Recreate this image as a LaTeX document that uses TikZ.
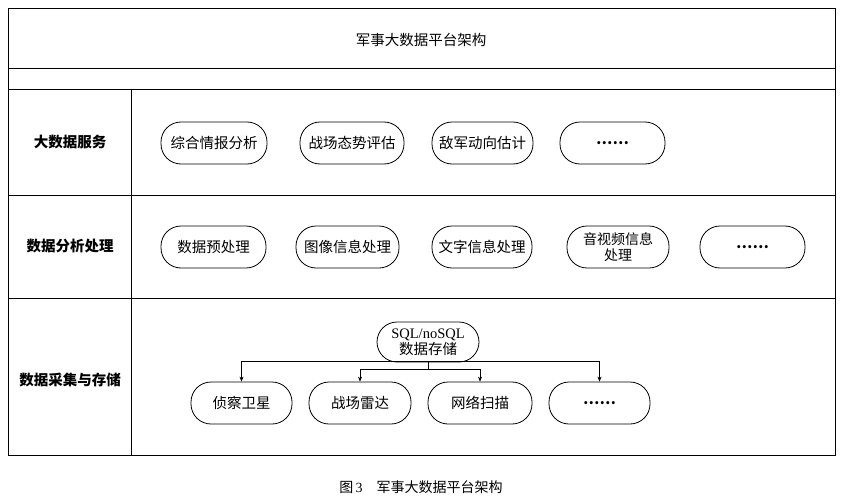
\documentclass[tikz,border=0pt]{standalone}
\usepackage{fontspec}
\usetikzlibrary{arrows.meta}
\setmainfont{Liberation Serif}
\newfontfamily\cjk{Noto Sans CJK SC}
\begin{document}
\begin{tikzpicture}[x=1pt,y=-1pt,line width=0.8pt,
  pill/.style={draw,rounded corners=20pt,minimum height=42pt,inner sep=1pt,align=center,font=\fontsize{14.5}{15}\selectfont\cjk},
  lab/.style={font=\fontsize{14.5}{16}\selectfont\cjk\bfseries},
  arr/.style={-{Stealth[length=5pt,width=4pt]},line width=0.6pt}]
\useasboundingbox (0,0) rectangle (842,500);
\draw (8,8) rectangle (835,455);
\foreach \y in {68,89,195,298} \draw (8,\y) -- (835,\y);
\draw (131,89) -- (131,455);
\node[font=\fontsize{14.5}{16}\selectfont\cjk] (t) at (421,40) {军事大数据平台架构};
\node[lab] (r1) at (70,142) {大数据服务};
\node[lab] (r2) at (70,246) {数据分析处理};
\node[lab] (r3) at (70,380) {数据采集与存储};
% row 1
\node[pill,minimum width=106pt] (a1) at (214,143) {综合情报分析};
\node[pill,minimum width=104pt] (a2) at (352,143) {战场态势评估};
\node[pill,minimum width=101pt] (a3) at (482.5,143) {敌军动向估计};
\node[pill,minimum width=105pt] (a4) at (612.5,143) {\textbf{……}};
% row 2
\node[pill,minimum width=105pt] (b1) at (213.5,247) {数据预处理};
\node[pill,minimum width=103pt] (b2) at (347.5,247) {图像信息处理};
\node[pill,minimum width=100pt] (b3) at (482,247) {文字信息处理};
\node[pill,minimum width=102pt,font=\fontsize{14}{16}\selectfont\cjk] (b4) at (618,247) {音视频信息\\处理};
\node[pill,minimum width=105pt] (b5) at (752.5,247) {\textbf{……}};
% row 3
\node[pill,minimum width=102pt,minimum height=40pt,font=\fontsize{14.5}{16}\selectfont] (s) at (428,342) {SQL/noSQL\\{\cjk 数据存储}};
\node[pill,minimum width=101pt] (c1) at (241.5,403) {侦察卫星};
\node[pill,minimum width=102pt] (c2) at (360,403) {战场雷达};
\node[pill,minimum width=104pt] (c3) at (480,403) {网络扫描};
\node[pill,minimum width=101pt] (c4) at (599.5,403) {\textbf{……}};
\coordinate (h1) at (428,361);
\coordinate (h2) at (428,369);
\draw[line width=0.6pt] (s.south) -- (h2);
\draw[arr] (h1) -| (c1.north);
\draw[arr] (h1) -| (c4.north);
\draw[arr] (h2) -| (c2.north);
\draw[arr] (h2) -| (c3.north);
\node[font=\fontsize{14}{16}\selectfont] (cap) at (421,487) {{\cjk 图}\,3\quad{\cjk 军事大数据平台架构}};
\end{tikzpicture}
\end{document}
